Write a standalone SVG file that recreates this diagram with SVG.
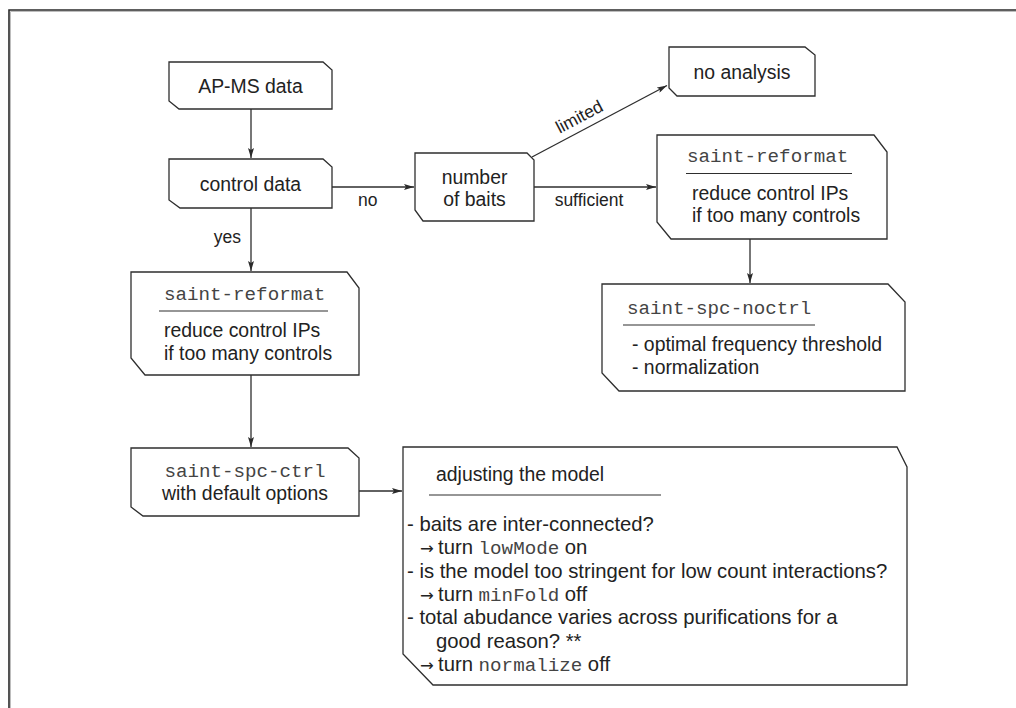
<svg xmlns="http://www.w3.org/2000/svg" width="1016" height="708" viewBox="0 0 1016 708">
  <defs>
    <marker id="arrow" viewBox="0 0 10 6" refX="10" refY="3" markerWidth="10" markerHeight="6" markerUnits="userSpaceOnUse" orient="auto">
      <path d="M0,0 L10,3 L0,6 L2,3 z" fill="#2a2a2a"/>
    </marker>
    <style>
      .frame { fill: none; stroke: #2a2a2a; stroke-width: 1.6; }
      .box { fill: #ffffff; stroke: #2e2e2e; stroke-width: 1.3; }
      .rule { stroke: #2e2e2e; stroke-width: 1.2; }
      .edge { fill: none; stroke: #2e2e2e; stroke-width: 1.3; marker-end: url(#arrow); }
      .t { font-family: "Liberation Sans", Arial, sans-serif; font-size: 19.4px; fill: #222; }
      .b { font-family: "Liberation Sans", Arial, sans-serif; font-size: 20.3px; fill: #222; }
      .ar { font-family: "DejaVu Sans", sans-serif; font-size: 16.5px; fill: #222; }
      .c { text-anchor: middle; }
      .lbl { font-family: "Liberation Sans", Arial, sans-serif; font-size: 17.5px; fill: #222; }
      .m { font-family: "Liberation Mono", "Courier New", monospace; font-size: 19.2px; fill: #444; }
    </style>
  </defs>

  <rect width="1016" height="708" fill="#ffffff"/>
  <!-- outer frame -->
  <path class="frame" d="M9,710 L9,10 L1018,10"/>
  <path d="M10.5,710 L10.5,11.5 L1018,11.5" fill="none" stroke="#bdbdbd" stroke-width="1"/>

  <!-- connectors -->
  <g id="connectors">
    <path class="edge" d="M251,109 L251,158"/>
    <path class="edge" d="M251,208 L251,271"/>
    <path class="edge" d="M332,187 L414,187"/>
    <path class="edge" d="M534,187 L656,187"/>
    <path class="edge" d="M532,157 L667,85.5"/>
    <path class="edge" d="M750,239 L750,283"/>
    <path class="edge" d="M251,375 L251,447"/>
    <path class="edge" d="M359,491 L402,491"/>
    <text class="lbl" x="241" y="243" text-anchor="end">yes</text>
    <text class="lbl" x="358" y="206">no</text>
    <text class="lbl" x="589" y="206" text-anchor="middle">sufficient</text>
    <text class="lbl" x="0" y="0" text-anchor="middle" transform="translate(582,122) rotate(-27.8)">limited</text>
  </g>

  <g id="ap-ms-data">
    <path class="box" d="M169,62 L323,62 L332,70 L332,109 L179,109 L169,101 z"/>
    <text class="t c" x="250.5" y="93">AP-MS data</text>
  </g>

  <g id="control-data">
    <path class="box" d="M169,159 L323,159 L332,167 L332,208 L180,208 L169,200 z"/>
    <text class="t c" x="250.5" y="191">control data</text>
  </g>

  <g id="number-of-baits">
    <path class="box" d="M415,153 L527,153 L534,160 L534,221 L423,221 L415,210 z"/>
    <text class="t c" x="474.5" y="184">number</text>
    <text class="t c" x="474.5" y="206">of baits</text>
  </g>

  <g id="no-analysis">
    <path class="box" d="M669,47 L805,47 L815,55 L815,96 L677,96 L669,88 z"/>
    <text class="t c" x="742" y="79">no analysis</text>
  </g>

  <g id="reformat-noctrl">
    <path class="box" d="M657,135 L874,135 L887,152 L887,239 L671,239 L657,222 z"/>
    <text class="m" x="687" y="162">saint-reformat</text>
    <line class="rule" x1="686" y1="173.5" x2="852" y2="173.5"/>
    <text class="t" x="692" y="200">reduce control IPs</text>
    <text class="t" x="692" y="222">if too many controls</text>
  </g>

  <g id="spc-noctrl">
    <path class="box" d="M602,284 L888,284 L905,302 L905,391 L619,391 L602,373 z"/>
    <text class="m" x="627" y="314">saint-spc-noctrl</text>
    <line class="rule" x1="623" y1="325" x2="815" y2="325"/>
    <text class="t" x="632" y="351">- optimal frequency threshold</text>
    <text class="t" x="632" y="374">- normalization</text>
  </g>

  <g id="reformat-ctrl">
    <path class="box" d="M131,272 L347,272 L359,288 L359,375 L145,375 L131,358 z"/>
    <text class="m" x="164" y="300">saint-reformat</text>
    <line class="rule" x1="159" y1="311" x2="328" y2="311"/>
    <text class="t" x="164" y="337">reduce control IPs</text>
    <text class="t" x="164" y="360">if too many controls</text>
  </g>

  <g id="spc-ctrl">
    <path class="box" d="M131,448 L348,448 L359,458 L359,516 L143,516 L131,507 z"/>
    <text class="m c" x="245" y="477">saint-spc-ctrl</text>
    <text class="t c" x="245" y="500">with default options</text>
  </g>

  <g id="adjusting-model">
    <path class="box" d="M403,447 L897,447 L907,467 L907,685 L433,685 L403,654 z"/>
    <text class="t" x="436" y="481">adjusting the model</text>
    <line class="rule" x1="429" y1="495" x2="661" y2="495"/>
    <text class="b" x="407" y="531">- baits are inter-connected?</text>
    <text class="ar" x="420" y="554">→</text>
    <text class="b" x="438" y="554">turn <tspan class="m">lowMode</tspan> on</text>
    <text class="b" x="407" y="578">- is the model too stringent for low count interactions?</text>
    <text class="ar" x="420" y="601">→</text>
    <text class="b" x="438" y="601">turn <tspan class="m">minFold</tspan> off</text>
    <text class="b" x="407" y="624">- total abudance varies across purifications for a</text>
    <text class="b" x="436" y="648">good reason? **</text>
    <text class="ar" x="420" y="671">→</text>
    <text class="b" x="438" y="671">turn <tspan class="m">normalize</tspan> off</text>
  </g>
</svg>
